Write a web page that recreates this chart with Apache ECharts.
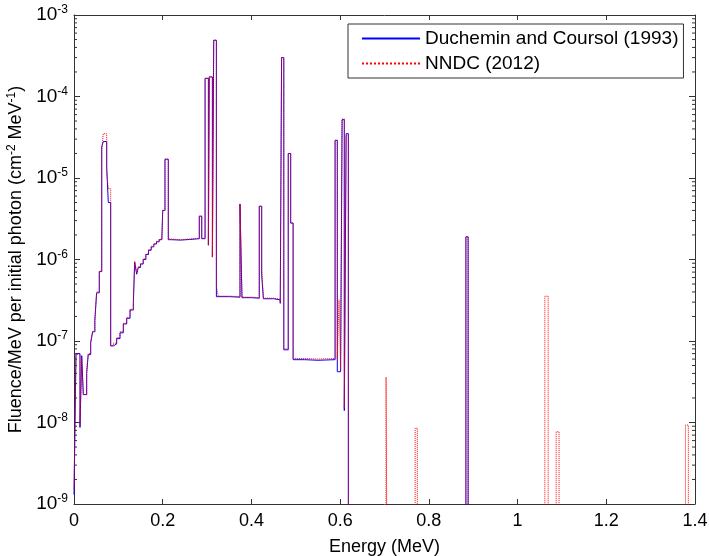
<!DOCTYPE html>
<html>
<head>
<meta charset="utf-8">
<script src="https://cdn.jsdelivr.net/npm/echarts@6/dist/echarts.min.js"></script>
<style>
html,body{margin:0;padding:0;background:#fff;}
#chart{width:709px;height:556px;}
</style>
</head>
<body>
<div id="chart"></div>
<script>
// value used for empty bins (drawn below the axis floor, clipped)
var ZERO = 1e-12;

// left bin edges (MeV), shared by both spectra
var edges = [
  0.0000, 0.0045, 0.0135, 0.0174, 0.0210, 0.0286, 0.0320, 0.0376, 0.0420, 0.0470,
  0.0510, 0.0570, 0.0625, 0.0660, 0.0737, 0.0773, 0.0827, 0.0886, 0.0962, 0.1037,
  0.1112, 0.1188, 0.1263, 0.1338, 0.1368, 0.1413, 0.1450, 0.1500, 0.1560, 0.1620,
  0.1680, 0.1740, 0.1800, 0.1860, 0.1920, 0.1980, 0.2000, 0.2051, 0.2126, 0.2200,
  0.2400, 0.2600, 0.2825, 0.2880, 0.2955, 0.3030, 0.3050, 0.3120, 0.3150, 0.3210,
  0.3250, 0.3500, 0.3742, 0.3787, 0.4000, 0.4177, 0.4231, 0.4270, 0.4500, 0.4650,
  0.4680, 0.4730, 0.4830, 0.4885, 0.4940, 0.5200, 0.5500, 0.5886, 0.5936, 0.5975,
  0.6010, 0.6044, 0.6094, 0.6135, 0.6185, 0.7035, 0.7075, 0.7690, 0.7740, 0.8835,
  0.8885, 1.0615, 1.0690, 1.0870, 1.0935, 1.3785, 1.3850, 1.4000
];

// Duchemin and Coursol (1993), fluence per bin
var duchemin = [
  1.3e-9, 7.0e-8, 8.7e-9, 6.6e-8, 2.2e-8, 4.0e-8, 6.8e-8, 9.5e-8, 1.3e-7, 1.8e-7,
  3.9e-7, 7.1e-7, 2.4e-5, 2.8e-5, 1.35e-5, 5.0e-6, 8.7e-8, 9.2e-8, 1.07e-7, 1.26e-7,
  1.62e-7, 1.9e-7, 2.4e-7, 2.95e-7, 9.3e-7, 6.6e-7, 8.0e-7, 8.8e-7, 1.0e-6, 1.15e-6,
  1.3e-6, 1.43e-6, 1.55e-6, 1.65e-6, 1.75e-6, 1.8e-6, 4.0e-6, 1.7e-5, 1.75e-6, 1.73e-6,
  1.76e-6, 1.8e-6, 3.4e-6, 1.8e-6, 1.67e-4, 1.5e-6, 1.74e-4, 1.07e-6, 4.9e-4, 3.5e-7,
  3.5e-7, 3.45e-7, 4.8e-6, 3.4e-7, 3.35e-7, 4.5e-6, 6.5e-7, 3.3e-7, 3.2e-7, 2.9e-7,
  3.0e-4, 7.8e-8, 2.0e-5, 2.8e-6, 5.9e-8, 5.8e-8, 5.9e-8, 2.9e-5, 4.2e-8, 4.2e-8,
  4.2e-8, 5.2e-5, 1.4e-8, 3.5e-5, ZERO, ZERO, ZERO, ZERO, ZERO, 1.9e-6,
  ZERO, ZERO, ZERO, ZERO, ZERO, ZERO, ZERO, ZERO
];

// NNDC (2012), fluence per bin
var nndc = [
  1.5e-9, 6.8e-8, 9.5e-9, 6.3e-8, 2.2e-8, 4.3e-8, 7.0e-8, 9.8e-8, 1.3e-7, 1.8e-7,
  4.0e-7, 7.2e-7, 2.2e-5, 3.5e-5, 1.2e-5, 7.4e-6, 8.8e-8, 9.4e-8, 1.1e-7, 1.3e-7,
  1.65e-7, 1.95e-7, 2.45e-7, 3.0e-7, 9.5e-7, 6.8e-7, 8.2e-7, 8.9e-7, 1.02e-6, 1.17e-6,
  1.32e-6, 1.45e-6, 1.57e-6, 1.67e-6, 1.77e-6, 1.82e-6, 4.0e-6, 1.7e-5, 1.78e-6, 1.75e-6,
  1.78e-6, 1.82e-6, 3.4e-6, 1.82e-6, 1.67e-4, 1.5e-6, 1.74e-4, 1.07e-6, 4.9e-4, 4.7e-7,
  3.55e-7, 3.5e-7, 4.8e-6, 3.45e-7, 3.4e-7, 4.5e-6, 7.7e-7, 3.35e-7, 3.25e-7, 3.0e-7,
  3.0e-4, 8.0e-8, 2.0e-5, 2.8e-6, 6.1e-8, 6.0e-8, 6.1e-8, 2.9e-5, 6.0e-8, 3.2e-7,
  4.5e-8, 5.3e-5, 1.5e-8, 3.3e-5, ZERO, 3.6e-8, ZERO, 8.5e-9, ZERO, 1.9e-6,
  ZERO, 3.55e-7, ZERO, 7.7e-9, ZERO, 9.3e-9, ZERO, ZERO
];

var seriesNames = ['Duchemin and Coursol (1993)', 'NNDC (2012)'];
var yMinorTicks = [2, 3, 4, 5, 6, 7, 8, 9];
var yDecades = [-9, -8, -7, -6, -5, -4];

function pairs(vals) {
  var out = [];
  for (var i = 0; i < edges.length; i++) {
    out.push([edges[i], vals[i]]);
  }
  return out;
}

var minorData = [];
for (var d = 0; d < yDecades.length; d++) {
  for (var m = 0; m < yMinorTicks.length; m++) {
    minorData.push([0, yMinorTicks[m] * Math.pow(10, yDecades[d])]);
  }
}

var axisColor = '#333';
var font = 'Liberation Sans, Arial, sans-serif';

var chart = echarts.init(document.getElementById('chart'));
var option = {
  animation: false,
  backgroundColor: '#fff',
  grid: { left: 74, right: 14, top: 15, bottom: 52, containLabel: false, outerBoundsMode: 'none' },
  legend: {
    data: seriesNames,
    orient: 'vertical',
    left: 348,
    top: 24,
    itemWidth: 58,
    itemHeight: 14,
    itemGap: 4,
    padding: [4, 5, 4, 13],
    borderColor: '#333',
    borderWidth: 1,
    borderRadius: 0,
    itemStyle: { opacity: 0 },
    textStyle: { fontFamily: font, fontSize: 19, color: '#000', lineHeight: 21 }
  },
  xAxis: [{
    type: 'value',
    min: 0, max: 1.4, interval: 0.2,
    name: 'Energy (MeV)',
    nameLocation: 'middle',
    nameGap: 34,
    nameTextStyle: { fontFamily: font, fontSize: 18, color: '#000' },
    axisLine: { show: true, onZero: false, lineStyle: { color: axisColor, width: 1 } },
    axisTick: { show: true, inside: true, length: 5, lineStyle: { color: axisColor } },
    axisLabel: { fontFamily: font, fontSize: 18, color: '#000', margin: 8 },
    splitLine: { show: false }
  }, {
    type: 'value', position: 'top',
    min: 0, max: 1.4, interval: 0.2,
    axisLine: { show: true, onZero: false, lineStyle: { color: axisColor, width: 1 } },
    axisTick: { show: true, inside: true, length: 5, lineStyle: { color: axisColor } },
    axisLabel: { show: false },
    splitLine: { show: false }
  }],
  yAxis: [{
    type: 'log', logBase: 10,
    min: 1e-9, max: 1e-3,
    name: 'Fluence/MeV per initial photon (cm{sup|-2} MeV{sup|-1})',
    nameLocation: 'middle',
    nameGap: 45,
    nameTextStyle: {
      fontFamily: font, fontSize: 18, color: '#000',
      rich: { sup: { fontFamily: font, fontSize: 12, color: '#000', verticalAlign: 'top', padding: [0, 0, 10, 0] } }
    },
    axisLine: { show: true, onZero: false, lineStyle: { color: axisColor, width: 1 } },
    axisTick: { show: true, inside: true, length: 6, lineStyle: { color: axisColor } },
    axisLabel: {
      margin: 6,
      formatter: function (v) {
        return '{b|10}{s|' + Math.round(Math.log10(v)) + '}';
      },
      rich: {
        b: { fontFamily: font, fontSize: 19, color: '#000' },
        s: { fontFamily: font, fontSize: 12, color: '#000', verticalAlign: 'top', padding: [0, 0, 10, 0] }
      }
    },
    splitLine: { show: false }
  }, {
    type: 'log', logBase: 10, position: 'right',
    min: 1e-9, max: 1e-3,
    axisLine: { show: true, onZero: false, lineStyle: { color: axisColor, width: 1 } },
    axisTick: { show: true, inside: true, length: 6, lineStyle: { color: axisColor } },
    axisLabel: { show: false },
    splitLine: { show: false }
  }],
  series: [{
    name: seriesNames[0],
    type: 'line',
    step: 'end',
    symbol: 'none',
    data: pairs(duchemin),
    itemStyle: { color: '#0000ff' },
    lineStyle: { color: '#0000ff', width: 1 },
    z: 3
  }, {
    name: seriesNames[1],
    type: 'line',
    step: 'end',
    symbol: 'none',
    data: pairs(nndc),
    itemStyle: { color: '#ff0000' },
    lineStyle: { color: '#ff0000', width: 1, type: 'dotted' },
    z: 4
  }, {
    // minor log ticks on left and right frame
    type: 'custom',
    silent: true,
    data: minorData,
    renderItem: function (params, api) {
      var v = api.value(1);
      var pl = api.coord([0, v]);
      var pr = api.coord([1.4, v]);
      return {
        type: 'group',
        children: [
          { type: 'line', shape: { x1: pl[0], y1: pl[1], x2: pl[0] + 3, y2: pl[1] }, style: { stroke: axisColor, lineWidth: 1 } },
          { type: 'line', shape: { x1: pr[0], y1: pr[1], x2: pr[0] - 3, y2: pr[1] }, style: { stroke: axisColor, lineWidth: 1 } }
        ]
      };
    },
    z: 5
  }]
};
chart.setOption(option);
</script>
</body>
</html>
